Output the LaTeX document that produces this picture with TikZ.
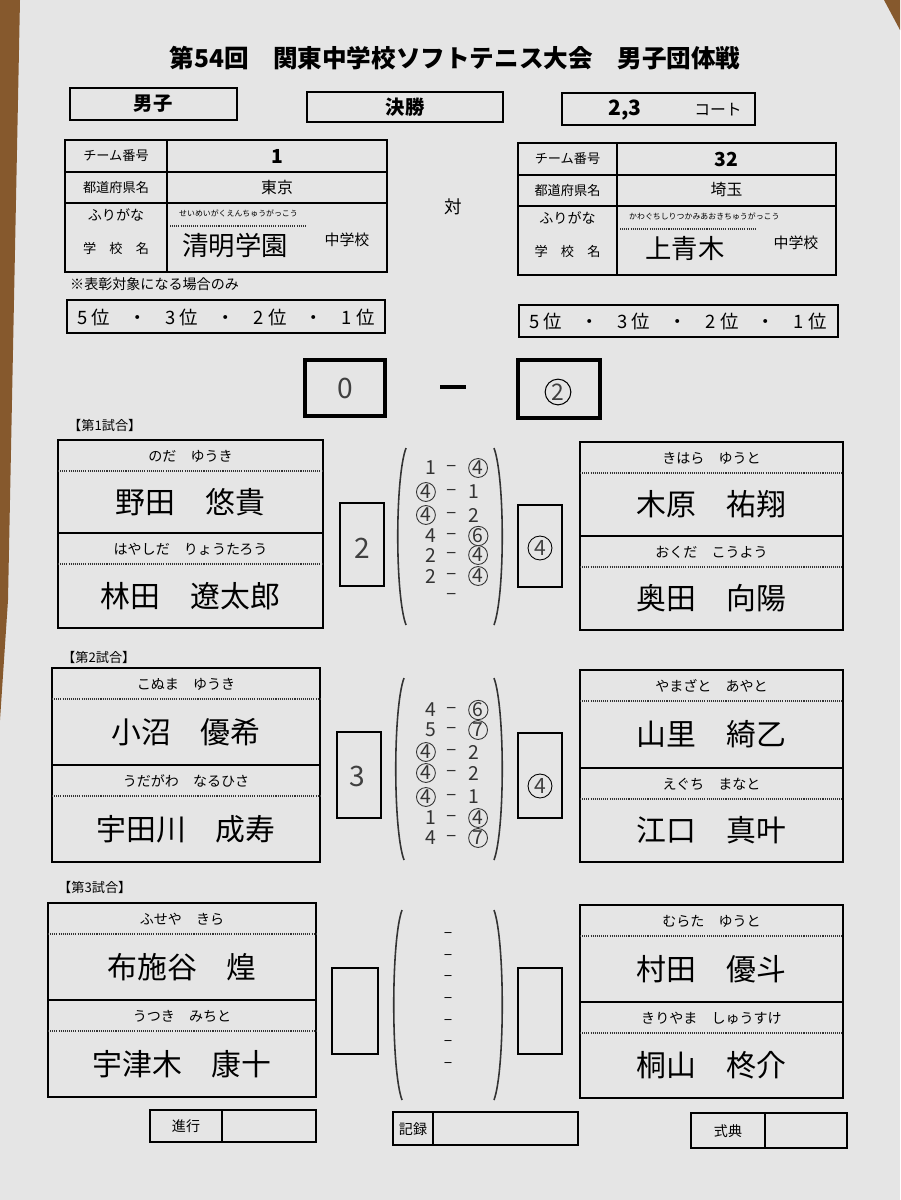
\documentclass[tikz,border=0pt]{standalone}
\usepackage{fontspec}
\setmainfont{Noto Sans CJK JP}
\usetikzlibrary{calc}
\newcommand\cir[1]{\tikz[baseline=(cc.base)]\node[circle,draw,line width=0.5pt,inner sep=0.3pt,minimum size=10pt](cc){#1};}
\newcommand\fs[1]{\fontsize{#1}{#1}\selectfont}
\tikzset{
  frame/.style={draw=black,line width=1.6pt},
  thin/.style={draw=black,line width=0.9pt},
  dots/.style={draw=black!80,line width=0.6pt,dash pattern=on 0.6pt off 0.6pt},
  hand/.style={font=\fs{11}, text=black!80},
}
% player block: x1 y1 x2 ymid y2 furi1 name1 furi2 name2
\newcommand\pblock[9]{
  \draw[frame] (#1,#2) rectangle (#3,#5);
  \draw[frame] (#1,#4) -- (#3,#4);
  \draw[dots] (#1,#2+31) -- (#3,#2+31);
  \draw[dots] (#1,#4+31) -- (#3,#4+31);
  \node[font=\fs{8}] (fa#1x#2) at ({(#1+#3)/2},#2+16) {#6};
  \node[font=\fs{17}] (na#1x#2) at ({(#1+#3)/2},{(#2+31+#4)/2}) {#7};
  \node[font=\fs{8}] (fb#1x#2) at ({(#1+#3)/2},#4+16) {#8};
  \node[font=\fs{17}] (nb#1x#2) at ({(#1+#3)/2},{(#4+31+#5)/2}) {#9};
}
% score line: x y left right
\newcommand\scl[4]{
  \node[hand,anchor=east] (sl#1x#2) at (#1-10,#2) {#3};
  \node[hand] (sd#1x#2) at (#1,#2) {--};
  \node[hand,anchor=west] (sr#1x#2) at (#1+10,#2) {#4};
}
\newcommand\parens[4]{% x1 y1 x2 y2
  \draw[line width=0.9pt,black!80] (#1+8,#2) .. controls (#1-3,#2+30) and (#1-3,#4-30) .. (#1+8,#4);
  \draw[line width=0.9pt,black!80] (#3-8,#2) .. controls (#3+3,#2+30) and (#3+3,#4-30) .. (#3-8,#4);
}
\begin{document}
\begin{tikzpicture}[x=0.02cm,y=-0.02cm]
\useasboundingbox (0,0) rectangle (900,1200);
\fill[black!10] (0,0) rectangle (900,1200);
\fill[brown!70!black] (0,0) -- (20,0) -- (8,600) -- (0,720) -- cycle;
\fill[brown!70!black] (884,0) -- (900,0) -- (900,30) -- cycle;

% title
\node[font=\fs{14}\bfseries] (title) at (455,58) {第54回　関東中学校ソフトテニス大会　男子団体戦};
\draw[frame] (70,88) rectangle (237,120);
\node[font=\fs{11}\bfseries] (boy) at (153,104) {男子};
\draw[frame] (307,92) rectangle (503,122);
\node[font=\fs{11}\bfseries] (fin) at (405,107) {決勝};
\draw[frame] (562,93) rectangle (755,125);
\node[font=\fs{12}\bfseries] (court) at (625,110) {2,3};
\node[font=\fs{9}] (courtl) at (718,110) {コート};

% team tables
\foreach \X/\Y/\D/\W/\num/\pref/\furi/\sch [count=\i] in
  {65/140/167/387/1/東京/せいめいがくえんちゅうがっこう/清明学園,
   518/143/617/836/32/埼玉/かわぐちしりつかみあおきちゅうがっこう/上青木}{
  \draw[frame] (\X,\Y) rectangle (\W,\Y+132);
  \draw[thin] (\X,\Y+32) -- (\W,\Y+32);
  \draw[thin] (\X,\Y+63) -- (\W,\Y+63);
  \draw[thin] (\D,\Y) -- (\D,\Y+132);
  \draw[dots] (\D+3,\Y+86) -- (\D+140,\Y+86);
  \node[font=\fs{7.5}] (l1\i) at ({(\X+\D)/2},\Y+16) {チーム番号};
  \node[font=\fs{7.5}] (l2\i) at ({(\X+\D)/2},\Y+47) {都道府県名};
  \node[font=\fs{8}] (l3\i) at ({(\X+\D)/2},\Y+75) {ふりがな};
  \node[font=\fs{7.5}] (l4\i) at ({(\X+\D)/2},\Y+108) {学　校　名};
  \node[font=\fs{11}\bfseries] (v1\i) at ({(\D+\W)/2},\Y+16) {\num};
  \node[font=\fs{9}] (v2\i) at ({(\D+\W)/2},\Y+47) {\pref};
  \node[font=\fs{4.5},anchor=west] (v3\i) at (\D+6,\Y+73) {\furi};
  \node[font=\fs{15}] (v4\i) at (\D+68,\Y+106) {\sch};
  \node[font=\fs{8.5}] (v5\i) at (\W-40,\Y+100) {中学校};
}
\node[font=\fs{10}] (tai) at (453,207) {対};
\node[font=\fs{8},anchor=west] (note) at (64,284) {※表彰対象になる場合のみ};
\draw[thin] (67,300) rectangle (385,333);
\node[font=\fs{10.5}] (rank1) at (226,317) {5 位　・　3 位　・　2 位　・　1 位};
\draw[thin] (519,305) rectangle (838,337);
\node[font=\fs{10.5}] (rank2) at (678,321) {5 位　・　3 位　・　2 位　・　1 位};

% total score
\draw[frame,line width=2.2pt] (305,360) rectangle (385,416);
\node[font=\fs{16},text=black!75] (t1) at (345,388) {0};
\draw[line width=2.5pt] (440,387) -- (466,387);
\draw[frame,line width=2.2pt] (518,360) rectangle (600,418);
\node[font=\fs{13},text=black!75,circle,draw,line width=0.6pt,inner sep=1pt] (t2) at (558,392) {2};

% match labels
\node[font=\fs{7.5},anchor=west] (m1) at (62,425) {【第1試合】};
\node[font=\fs{7.5},anchor=west] (m2) at (56,657) {【第2試合】};
\node[font=\fs{7.5},anchor=west] (m3) at (52,887) {【第3試合】};

% match 1
\pblock{58}{440}{323}{533}{628}{のだ　ゆうき}{野田　悠貴}{はやしだ　りょうたろう}{林田　遼太郎}
\pblock{580}{442}{843}{536}{630}{きはら　ゆうと}{木原　祐翔}{おくだ　こうよう}{奥田　向陽}
\draw[thin] (340,503) rectangle (384,586);
\node[font=\fs{16},text=black!75] (s1l) at (362,548) {2};
\draw[thin] (518,505) rectangle (562,587);
\node[font=\fs{12},text=black!75,circle,draw,line width=0.5pt,inner sep=1pt] (s1r) at (540,548) {4};
\parens{398}{448}{502}{625}
\scl{452}{468}{1}{\cir{4}}
\scl{452}{492}{\cir{4}}{1}
\scl{452}{515}{\cir{4}}{2}
\scl{452}{536}{4}{\cir{6}}
\scl{452}{555}{2}{\cir{4}}
\scl{452}{576}{2}{\cir{4}}
\node[hand] (sd1x7) at (452,596) {--};

% match 2
\pblock{52}{668}{320}{765}{862}{こぬま　ゆうき}{小沼　優希}{うだがわ　なるひさ}{宇田川　成寿}
\pblock{580}{670}{843}{768}{862}{やまざと　あやと}{山里　綺乙}{えぐち　まなと}{江口　真叶}
\draw[thin] (337,732) rectangle (381,818);
\node[font=\fs{16},text=black!75] (s2l) at (357,776) {3};
\draw[thin] (518,733) rectangle (562,818);
\node[font=\fs{12},text=black!75,circle,draw,line width=0.5pt,inner sep=1pt] (s2r) at (540,786) {4};
\parens{396}{678}{502}{860}
\scl{452}{710}{4}{\cir{6}}
\scl{452}{730}{5}{\cir{7}}
\scl{452}{752}{\cir{4}}{2}
\scl{452}{773}{\cir{4}}{2}
\scl{452}{797}{\cir{4}}{1}
\scl{452}{818}{1}{\cir{4}}
\scl{452}{838}{4}{\cir{7}}

% match 3
\pblock{48}{903}{316}{1000}{1097}{ふせや　きら}{布施谷　煌}{うつき　みちと}{宇津木　康十}
\pblock{580}{905}{843}{1002}{1098}{むらた　ゆうと}{村田　優斗}{きりやま　しゅうすけ}{桐山　柊介}
\draw[thin] (332,968) rectangle (378,1054);
\draw[thin] (518,968) rectangle (562,1054);
\parens{394}{910}{502}{1100}
\foreach \yy [count=\k] in {935,957,978,1000,1022,1043,1065}
  \node[font=\fs{9}] (d3x\k) at (448,\yy) {–};

% bottom
\draw[thin] (150,1110) rectangle (316,1142); \draw[thin] (222,1110) -- (222,1142);
\node[font=\fs{8}] (shin) at (186,1126) {進行};
\draw[thin] (393,1112) rectangle (578,1145); \draw[thin] (433,1112) -- (433,1145);
\node[font=\fs{8}] (kiroku) at (413,1129) {記録};
\draw[thin] (691,1113) rectangle (847,1148); \draw[thin] (765,1113) -- (765,1148);
\node[font=\fs{8}] (shiki) at (728,1131) {式典};
\end{tikzpicture}
\end{document}
